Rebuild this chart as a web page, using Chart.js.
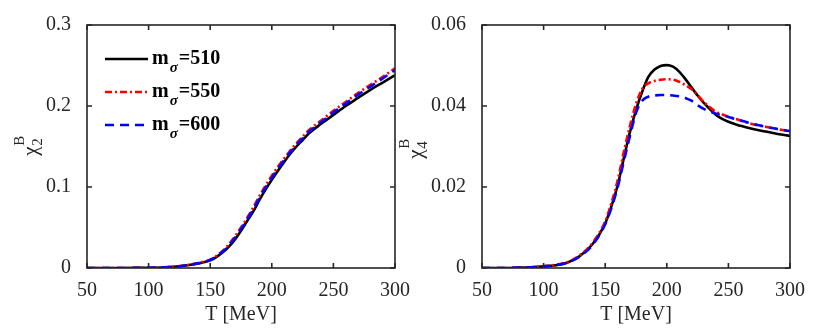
<!DOCTYPE html>
<html>
<head>
<meta charset="utf-8">
<script src="https://cdn.jsdelivr.net/npm/chart.js@4"></script>
<style>
  html, body { margin: 0; padding: 0; background: #fff; }
  .wrap { position: relative; width: 830px; height: 333px; }
  #painelEsq { position: absolute; left: 0; top: 0; width: 415px; height: 333px; }
  #painelDir { position: absolute; left: 395px; top: 0; width: 435px; height: 333px; }
</style>
</head>
<body>
<div class="wrap">
  <div id="painelEsq"><canvas id="chi2Chart"></canvas></div>
  <div id="painelDir"><canvas id="chi4Chart"></canvas></div>
</div>
<script>
const temperaturas = [50, 60, 70, 80, 90, 100, 110, 120, 130, 140, 150, 155, 160, 165, 170, 175, 180, 185, 190, 195, 200, 205, 210, 215, 220, 225, 230, 240, 250, 260, 270, 280, 290, 300];

const rotulosMassa = ['510', '550', '600'];

const chi2_510 = [0, 0, 0, 0, 0.0001, 0.0003, 0.0007, 0.0015, 0.003, 0.0055, 0.0095, 0.0135, 0.019, 0.026, 0.035, 0.046, 0.058, 0.070, 0.084, 0.097, 0.109, 0.120, 0.131, 0.141, 0.150, 0.158, 0.166, 0.178, 0.189, 0.200, 0.210, 0.220, 0.229, 0.238];
const chi2_550 = [0, 0, 0, 0, 0.0001, 0.0003, 0.0007, 0.0016, 0.0032, 0.006, 0.0102, 0.0148, 0.021, 0.029, 0.039, 0.050, 0.062, 0.075, 0.089, 0.102, 0.114, 0.125, 0.135, 0.145, 0.154, 0.162, 0.170, 0.182, 0.194, 0.205, 0.216, 0.226, 0.236, 0.2465];
const chi2_600 = [0, 0, 0, 0, 0.0001, 0.0003, 0.0007, 0.0015, 0.0031, 0.0057, 0.0098, 0.0141, 0.020, 0.0275, 0.037, 0.048, 0.060, 0.0725, 0.0865, 0.0995, 0.1115, 0.1225, 0.133, 0.143, 0.152, 0.160, 0.168, 0.180, 0.192, 0.203, 0.214, 0.224, 0.234, 0.2445];

const chi4_510 = [0, 0, 0, 0.0001, 0.0002, 0.0004, 0.0007, 0.0014, 0.0031, 0.006, 0.011, 0.0152, 0.0203, 0.027, 0.0335, 0.039, 0.0435, 0.0472, 0.049, 0.0499, 0.0501, 0.0497, 0.0485, 0.0467, 0.0446, 0.0426, 0.0408, 0.0378, 0.0361, 0.0351, 0.0343, 0.0337, 0.0331, 0.0326];
const chi4_550 = [0, 0, 0, 0.0001, 0.0002, 0.0004, 0.0008, 0.0015, 0.0033, 0.0063, 0.0115, 0.016, 0.0215, 0.0285, 0.035, 0.0405, 0.0442, 0.0456, 0.0462, 0.0465, 0.0466, 0.0465, 0.046, 0.0452, 0.0442, 0.0427, 0.041, 0.0386, 0.0374, 0.0364, 0.0355, 0.0349, 0.0343, 0.0338];
const chi4_600 = [0, 0, 0, 0.0001, 0.0002, 0.0004, 0.0007, 0.0014, 0.003, 0.0058, 0.0108, 0.0148, 0.0198, 0.0262, 0.0325, 0.0383, 0.0413, 0.0423, 0.0426, 0.0427, 0.0427, 0.0426, 0.0424, 0.042, 0.0413, 0.0402, 0.0393, 0.0381, 0.0373, 0.0364, 0.0356, 0.0349, 0.0343, 0.0338];

const coresLinhas = ['#000000', '#ff0000', '#0000ff'];
const tracos = [[], [7, 3, 2, 3], [9, 6]];
const fonteSerif = '"Liberation Serif", "Times New Roman", serif';
const corTexto = '#262626';

function montarSerie(valores) {
    return temperaturas.map((t, i) => ({ x: t, y: valores[i] }));
}

function montarDatasets(series) {
    return series.map((valores, i) => ({
        label: 'm_sigma=' + rotulosMassa[i],
        data: montarSerie(valores),
        borderColor: coresLinhas[i],
        borderWidth: 2.6,
        borderDash: tracos[i],
        pointRadius: 0,
        fill: false,
        cubicInterpolationMode: 'monotone'
    })).reverse();
}

// moldura com ticks para dentro nos quatro lados
const pluginMoldura = {
    id: 'moldura',
    afterDraw(chart) {
        const { ctx, chartArea: a, scales } = chart;
        ctx.save();
        ctx.strokeStyle = corTexto;
        ctx.lineWidth = 1.6;
        ctx.strokeRect(a.left, a.top, a.right - a.left, a.bottom - a.top);
        const tam = 5;
        ctx.beginPath();
        scales.x.ticks.forEach(t => {
            const px = scales.x.getPixelForValue(t.value);
            ctx.moveTo(px, a.bottom); ctx.lineTo(px, a.bottom - tam);
            ctx.moveTo(px, a.top); ctx.lineTo(px, a.top + tam);
        });
        scales.y.ticks.forEach(t => {
            const py = scales.y.getPixelForValue(t.value);
            ctx.moveTo(a.left, py); ctx.lineTo(a.left + tam, py);
            ctx.moveTo(a.right, py); ctx.lineTo(a.right - tam, py);
        });
        ctx.stroke();
        ctx.restore();
    }
};

// titulo do eixo y: chi com subscrito e sobrescrito
const pluginTituloY = {
    id: 'tituloY',
    afterDraw(chart, args, opts) {
        const { ctx } = chart;
        ctx.save();
        ctx.translate(opts.x, opts.y);
        ctx.rotate(-Math.PI / 2);
        ctx.fillStyle = corTexto;
        ctx.textBaseline = 'alphabetic';
        ctx.font = '21px ' + fonteSerif;
        const wChi = ctx.measureText('χ').width;
        const xIni = -(wChi + 8) / 2;
        ctx.fillText('χ', xIni, 0);
        ctx.font = '15px ' + fonteSerif;
        ctx.fillText(opts.sub, xIni + wChi + 0.5, 5);
        ctx.fillText('B', xIni + wChi + 0.5, -13);
        ctx.restore();
    }
};

// legenda com m sub sigma
const pluginLegenda = {
    id: 'legendaSigma',
    afterDraw(chart, args, opts) {
        if (!opts.mostrar) return;
        const { ctx } = chart;
        ctx.save();
        rotulosMassa.forEach((rot, i) => {
            const y = opts.y0 + i * 33;
            ctx.beginPath();
            ctx.strokeStyle = coresLinhas[i];
            ctx.lineWidth = 2.6;
            ctx.setLineDash(tracos[i]);
            ctx.moveTo(opts.x0, y);
            ctx.lineTo(opts.x0 + 43, y);
            ctx.stroke();
            ctx.setLineDash([]);
            ctx.fillStyle = '#000';
            ctx.textBaseline = 'middle';
            let x = opts.x0 + 47;
            ctx.font = 'bold 20px ' + fonteSerif;
            ctx.fillText('m', x, y);
            x += ctx.measureText('m').width + 1;
            ctx.font = 'italic bold 15px ' + fonteSerif;
            ctx.fillText('σ', x, y + 9);
            x += ctx.measureText('σ').width + 1;
            ctx.font = 'bold 20px ' + fonteSerif;
            ctx.fillText('=' + rot, x, y);
        });
        ctx.restore();
    }
};

function criarGrafico(id, series, yMax, yPasso, padDireita, tituloY, legenda, casas) {
    const el = document.getElementById(id);
    return new Chart(el, {
        type: 'line',
        data: { datasets: montarDatasets(series) },
        options: {
            responsive: true,
            maintainAspectRatio: false,
            animation: false,
            layout: { padding: { left: 0, right: padDireita, top: 25, bottom: 6 } },
            plugins: {
                legend: { display: false },
                tooltip: { enabled: false },
                tituloY: tituloY,
                legendaSigma: legenda
            },
            scales: {
                x: {
                    type: 'linear',
                    min: 50, max: 300,
                    grid: { display: false },
                    border: { display: false },
                    ticks: {
                        stepSize: 50,
                        color: corTexto,
                        font: { family: fonteSerif, size: 20 },
                        padding: 3,
                        maxRotation: 0
                    },
                    title: {
                        display: true,
                        text: 'T [MeV]',
                        color: corTexto,
                        font: { family: fonteSerif, size: 20 },
                        padding: { top: 0, bottom: 0 }
                    },
                    afterFit(scale) { scale.height = 59; }
                },
                y: {
                    min: 0, max: yMax,
                    grid: { display: false },
                    border: { display: false },
                    ticks: {
                        stepSize: yPasso,
                        color: corTexto,
                        font: { family: fonteSerif, size: 20 },
                        padding: 8,
                        callback: v => v === 0 ? '0' : v.toFixed(casas)
                    },
                    afterFit(scale) { scale.width = 87; }
                }
            }
        },
        plugins: [pluginMoldura, pluginTituloY, pluginLegenda]
    });
}

criarGrafico('chi2Chart', [chi2_510, chi2_550, chi2_600], 0.3, 0.1, 20,
    { x: 37, y: 147, sub: '2' }, { mostrar: true, x0: 105, y0: 59 }, 1);
criarGrafico('chi4Chart', [chi4_510, chi4_550, chi4_600], 0.06, 0.02, 40,
    { x: 27, y: 150, sub: '4' }, { mostrar: false }, 2);
</script>
</body>
</html>
